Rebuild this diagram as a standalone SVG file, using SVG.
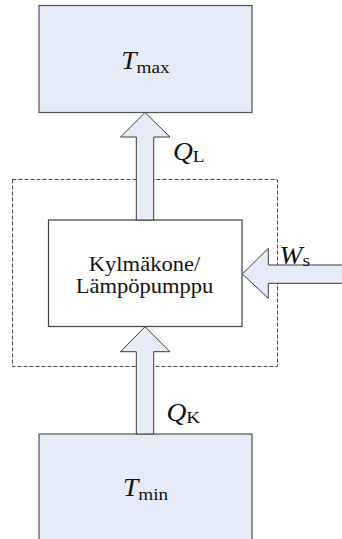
<svg xmlns="http://www.w3.org/2000/svg" width="342" height="539" viewBox="0 0 342 539">
  <style>
    .res { fill: #E6ECF7; stroke: #505050; stroke-width: 1.2; }
    .dev { fill: #FFFFFF; stroke: #404040; stroke-width: 1.2; }
    .flow { fill: #E6ECF7; stroke: #3A3A3A; stroke-width: 1; stroke-linejoin: miter; }
    .bound { fill: none; stroke: #444; stroke-width: 1; stroke-dasharray: 4 2; }
    .lbl { font-family: "Liberation Serif", "Times New Roman", serif; fill: #111; }
    .it { font-style: italic; }
  </style>
  <rect width="342" height="539" fill="#FFFFFF"/>

  <!-- system boundary -->
  <rect class="bound" x="12.5" y="179.5" width="265" height="187"/>

  <!-- hot reservoir -->
  <g id="hot">
    <rect class="res" x="39" y="5.5" width="213" height="107"/>
    <text class="lbl" text-anchor="middle" transform="translate(145.5,68.5) scale(1.1,1)"><tspan class="it" font-size="25">T</tspan><tspan font-size="17.5" dy="4.5">max</tspan></text>
  </g>

  <!-- cold reservoir -->
  <g id="cold">
    <rect class="res" x="39" y="434" width="213" height="120"/>
    <text class="lbl" text-anchor="middle" transform="translate(145.5,495.5) scale(1.1,1)"><tspan class="it" font-size="25">T</tspan><tspan font-size="17.5" dy="4.5">min</tspan></text>
  </g>

  <!-- machine -->
  <g id="machine">
    <rect class="dev" x="48.5" y="220" width="193.5" height="106.5"/>
    <text class="lbl" font-size="20.5" text-anchor="middle" transform="translate(144.5,270.5) scale(1.1,1)">Kylmäkone/</text>
    <text class="lbl" font-size="20.5" text-anchor="middle" transform="translate(144.5,293) scale(1.1,1)">Lämpöpumppu</text>
  </g>

  <!-- energy flows -->
  <g id="flows">
    <g id="flow-QL">
      <path class="flow" d="M145,112.5 L170,137 L153.7,137 L153.7,220 L136.3,220 L136.3,137 L120.5,137 Z"/>
      <text class="lbl" transform="translate(173,160) scale(1.1,1)"><tspan class="it" font-size="25">Q</tspan><tspan font-size="17.5" dy="2">L</tspan></text>
    </g>
    <g id="flow-QK">
      <path class="flow" d="M145,326.7 L170,351.7 L153.7,351.7 L153.7,434 L136.3,434 L136.3,351.7 L120.5,351.7 Z"/>
      <text class="lbl" transform="translate(166.5,421) scale(1.1,1)"><tspan class="it" font-size="25">Q</tspan><tspan font-size="17.5" dy="2">K</tspan></text>
    </g>
    <g id="flow-Ws">
      <path class="flow" d="M242.3,274 L268.3,248.3 L268.3,265 L343,265 L343,283.3 L268.3,283.3 L268.3,298.3 Z"/>
      <text class="lbl" transform="translate(279.5,264) scale(1.1,1)"><tspan class="it" font-size="25">W</tspan><tspan font-size="17.5" dy="2">s</tspan></text>
    </g>
  </g>
</svg>
